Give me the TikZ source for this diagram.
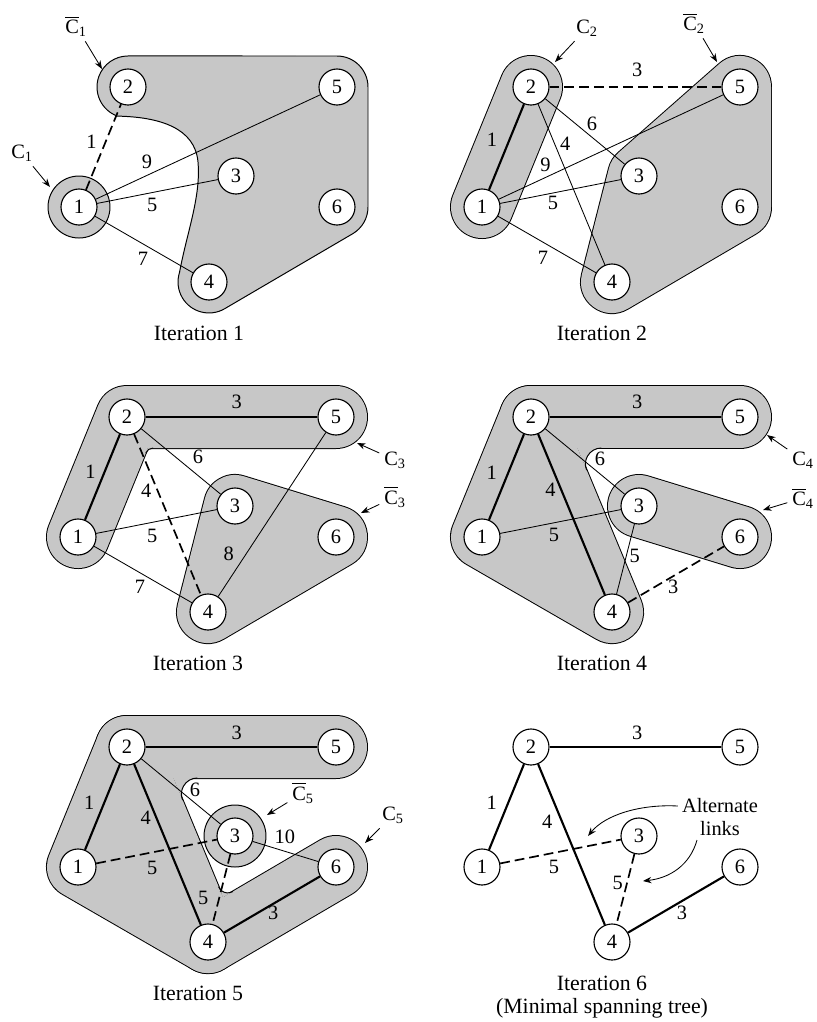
\documentclass[tikz,border=0pt]{standalone}
\usepackage{amsmath}
\usepackage{fontspec}
\setmainfont{Liberation Serif}
\usetikzlibrary{arrows.meta,backgrounds}

\definecolor{zonegray}{gray}{0.78}

\tikzset{
  vertex/.style={circle,draw,fill=white,line width=.8pt,minimum size=.9cm,inner sep=0pt},
  link/.style={line width=.6pt},
  tree/.style={line width=1.5pt},
  cand/.style={line width=1.2pt,dash pattern=on 7pt off 3.5pt},
  wt/.style={inner sep=0pt},
  itername/.style={inner sep=0pt,align=center,font=\fontsize{15.5}{16.5}\selectfont},
  ring/.style={fill=zonegray,draw=black,line width=.7pt},
  rim/.style={draw=black,line width=1.55cm+1.4pt,line join=round,line cap=round},
  zone/.style={draw=zonegray,line width=1.55cm,line join=round,line cap=round},
  fillet/.style={fill=zonegray},
  pointer/.style={-{Stealth[length=6pt,width=4.5pt]},line width=.6pt},
}
% hull of a group of vertices: #1 closed part (filled), #2 open bands
\newcommand\region[2]{\filldraw[rim,fill=black] #1; \draw[rim] #2;
  \filldraw[zone,fill=zonegray] #1; \draw[zone] #2;}
% the six vertices, same layout in every iteration
\newcommand\vertices[1]{%
  \foreach \n/\px/\py in {1/0/0,2/49/-120,5/258/-120,3/157/-31,6/258/0,4/130/75}
    \node[vertex] (#1\n) at (\px,\py) {\n};}

\begin{document}
\begin{tikzpicture}[x=0.025cm,y=-0.025cm,font=\fontsize{14.5}{16.5}\selectfont]
  \useasboundingbox (0,0) rectangle (817,1022);

  % Iteration 1
  \begin{scope}[shift={(79,207)}]
    \vertices{A}
    \begin{scope}[on background layer]
      \filldraw[ring] (A1.center) circle[radius=31];
      \filldraw[ring] (38.4,-90.9) arc[start angle=110,end angle=270,radius=31] -- (258,-151)
        arc[start angle=270,end angle=360,radius=31] -- (289,0)
        arc[start angle=0,end angle=59.6,radius=31] -- (145.7,101.7)
        arc[start angle=59.6,end angle=198,radius=31]
        .. controls (108,25) and (122,-10) .. (119,-45)
        .. controls (116,-79) and (81,-90) .. (38.4,-90.9) -- cycle;
    \end{scope}
    \draw[cand] (A1) -- node[wt,pos=.5,shift={(-12,-5)}] {1} (A2);
    \draw[link] (A1) -- node[wt,pos=.25,shift={(-5,-11)}] {9} (A5);
    \draw[link] (A1) -- node[wt,pos=.44,shift={(2,12)}] {5} (A3);
    \draw[link] (A1) -- node[wt,pos=.55,shift={(-6,11)}] {7} (A4);
    \node (cA) at (-57,-54) {$\text{C}_{\text{1}}$};
    \coordinate (cAtip) at (-29,-20);
    \draw[pointer] (cA) -- (cAtip);
    \node (cbA) at (-3,-181) {$\overline{\text{C}}_{\text{1}}$};
    \coordinate (cbAtip) at (23,-138);
    \draw[pointer] (cbA) -- (cbAtip);
    \node[itername] (capA) at (120,126) {Iteration 1};
  \end{scope}

  % Iteration 2
  \begin{scope}[shift={(482,207)}]
    \vertices{B}
    \begin{scope}[on background layer]
      \region{}{(B1.center) -- (B2.center)}
      \region{(B5.center) -- (B3.center) -- (B4.center) -- (B6.center) -- cycle}{}
    \end{scope}
    \draw[tree] (B1) -- node[wt,pos=.51,shift={(-15,-6)}] {1} (B2);
    \draw[cand] (B2) -- node[wt,pos=.51,shift={(0,-17)}] {3} (B5);
    \draw[link] (B2) -- node[wt,pos=.5,shift={(7,-8)}] {6} (B3);
    \draw[link] (B2) -- node[wt,pos=.27,shift={(9,-4)}] {4} (B4);
    \draw[link] (B1) -- node[wt,pos=.23,shift={(-5,-10)}] {9} (B5);
    \draw[link] (B1) -- node[wt,pos=.42,shift={(2,10)}] {5} (B3);
    \draw[link] (B1) -- node[wt,pos=.53,shift={(-7,12)}] {7} (B4);
    \node (cB) at (105,-179) {$\text{C}_{\text{2}}$};
    \coordinate (cBtip) at (73,-145);
    \draw[pointer] (cB) -- (cBtip);
    \node (cbB) at (212,-184) {$\overline{\text{C}}_{\text{2}}$};
    \coordinate (cbBtip) at (235,-145);
    \draw[pointer] (cbB) -- (cbBtip);
    \node[itername] (capB) at (120,126) {Iteration 2};
  \end{scope}

  % Iteration 3
  \begin{scope}[shift={(78,537)}]
    \vertices{C}
    \begin{scope}[on background layer]
      \region{}{(C1.center) -- (C2.center) -- (C5.center)}
      \region{(C3.center) -- (C4.center) -- (C6.center) -- cycle}{}
      \fill[fillet] (69.8,-89) -- (75.2,-89) arc[start angle=270,end angle=202,radius=8] -- cycle;
      \draw[line width=.7pt] (75.2,-89) arc[start angle=270,end angle=202,radius=8];
    \end{scope}
    \draw[tree] (C1) -- node[wt,pos=.5,shift={(-12,-5)}] {1} (C2);
    \draw[tree] (C2) -- node[wt,pos=.53,shift={(0,-15)}] {3} (C5);
    \draw[link] (C2) -- node[wt,pos=.6,shift={(9,-11)}] {6} (C3);
    \draw[cand] (C2) -- node[wt,pos=.33,shift={(-10,4)}] {4} (C4);
    \draw[link] (C1) -- node[wt,pos=.44,shift={(3,13)}] {5} (C3);
    \draw[link] (C1) -- node[wt,pos=.53,shift={(-6,11)}] {7} (C4);
    \draw[link] (C4) -- node[wt,pos=.21,shift={(-12,-8)}] {8} (C5);
    \node (cC) at (317,-77) {$\text{C}_{\text{3}}$};
    \coordinate (cCtip) at (279,-94);
    \draw[pointer] (cC) -- (cCtip);
    \node (cbC) at (317,-40) {$\overline{\text{C}}_{\text{3}}$};
    \coordinate (cbCtip) at (283,-24);
    \draw[pointer] (cbC) -- (cbCtip);
    \node[itername] (capC) at (120,126) {Iteration 3};
  \end{scope}

  % Iteration 4
  \begin{scope}[shift={(482,537)}]
    \vertices{D}
    \begin{scope}[on background layer]
      \region{(D2.center) -- (D1.center) -- (D4.center) -- cycle}{(D2.center) -- (D5.center)}
      \region{}{(D3.center) -- (D6.center)}
      \fill[fillet] (95.4,-89) -- (119.4,-89) arc[start angle=270,end angle=157.3,radius=16] -- cycle;
      \draw[line width=.7pt] (119.4,-89) arc[start angle=270,end angle=157.3,radius=16];
    \end{scope}
    \draw[tree] (D1) -- node[wt,pos=.48,shift={(-14,-6)}] {1} (D2);
    \draw[tree] (D2) -- node[wt,pos=.51,shift={(0,-15)}] {3} (D5);
    \draw[tree] (D2) -- node[wt,pos=.32,shift={(-9,4)}] {4} (D4);
    \draw[link] (D2) -- node[wt,pos=.6,shift={(7,-9)}] {6} (D3);
    \draw[link] (D1) -- node[wt,pos=.42,shift={(3,12)}] {5} (D3);
    \draw[link] (D3) -- node[wt,pos=.43,shift={(8,2)}] {5} (D4);
    \draw[cand] (D4) -- node[wt,pos=.42,shift={(5,8)}] {3} (D6);
    \node (cD) at (321,-77) {$\text{C}_{\text{4}}$};
    \coordinate (cDtip) at (285,-102);
    \draw[pointer] (cD) -- (cDtip);
    \node (cbD) at (321,-39) {$\overline{\text{C}}_{\text{4}}$};
    \coordinate (cbDtip) at (281,-27);
    \draw[pointer] (cbD) -- (cbDtip);
    \node[itername] (capD) at (120,126) {Iteration 4};
  \end{scope}

  % Iteration 5
  \begin{scope}[shift={(78,867)}]
    \vertices{E}
    \begin{scope}[on background layer]
      \region{(E2.center) -- (E1.center) -- (E4.center) -- cycle}{(E2.center) -- (E5.center) (E4.center) -- (E6.center)}
      \fill[fillet] (95.4,-89) -- (119.4,-89) arc[start angle=270,end angle=157.3,radius=16] -- cycle;
      \draw[line width=.7pt] (119.4,-89) arc[start angle=270,end angle=157.3,radius=16];
      \fill[fillet] (145,30.3) -- (140.6,19.7) arc[start angle=157.6,end angle=59.3,radius=10] -- cycle;
      \draw[line width=.7pt] (140.6,19.7) arc[start angle=157.6,end angle=59.3,radius=10];
      \filldraw[ring] (E3.center) circle[radius=31];
    \end{scope}
    \draw[tree] (E1) -- node[wt,pos=.49,shift={(-13,-5)}] {1} (E2);
    \draw[tree] (E2) -- node[wt,pos=.53,shift={(0,-14)}] {3} (E5);
    \draw[tree] (E2) -- node[wt,pos=.31,shift={(-9,4)}] {4} (E4);
    \draw[tree] (E4) -- node[wt,pos=.47,shift={(4,7)}] {3} (E6);
    \draw[link] (E2) -- node[wt,pos=.6,shift={(6,-8)}] {6} (E3);
    \draw[cand] (E1) -- node[wt,pos=.44,shift={(3,15)}] {5} (E3);
    \draw[cand] (E3) -- node[wt,pos=.68,shift={(-15,-4)}] {5} (E4);
    \draw[link] (E3) -- node[wt,pos=.43,shift={(4,-13)}] {10} (E6);
    \node (cbE) at (225,-74) {$\overline{\text{C}}_{\text{5}}$};
    \coordinate (cbEtip) at (189,-52);
    \draw[pointer] (cbE) -- (cbEtip);
    \node (cE) at (315,-52) {$\text{C}_{\text{5}}$};
    \coordinate (cEtip) at (287,-24);
    \draw[pointer] (cE) -- (cEtip);
    \node[itername] (capE) at (120,126) {Iteration 5};
  \end{scope}

  % Iteration 6
  \begin{scope}[shift={(482,867)}]
    \vertices{F}
    \draw[tree] (F1) -- node[wt,pos=.48,shift={(-14,-6)}] {1} (F2);
    \draw[tree] (F2) -- node[wt,pos=.51,shift={(0,-14)}] {3} (F5);
    \draw[tree] (F2) -- node[wt,pos=.33,shift={(-13,5)}] {4} (F4);
    \draw[tree] (F4) -- node[wt,pos=.51,shift={(5,9)}] {3} (F6);
    \draw[cand] (F1) -- node[wt,pos=.42,shift={(3,14)}] {5} (F3);
    \draw[cand] (F3) -- node[wt,pos=.43,shift={(-9,-1)}] {5} (F4);
    \node[inner sep=0pt,align=center] (alt) at (238,-50) {Alternate\\links};
    \coordinate (altA) at (106,-31);
    \coordinate (altB) at (161,14);
    \draw[pointer] ([shift={(-4,-11)}]alt.west) .. controls (158,-63) and (123,-52) .. (altA);
    \draw[pointer] ([shift={(-23,4)}]alt.south) .. controls (208,-2) and (188,11) .. (altB);
    \node[itername] (capF) at (120,130) {Iteration 6\\(Minimal spanning tree)};
  \end{scope}
\end{tikzpicture}
\end{document}
